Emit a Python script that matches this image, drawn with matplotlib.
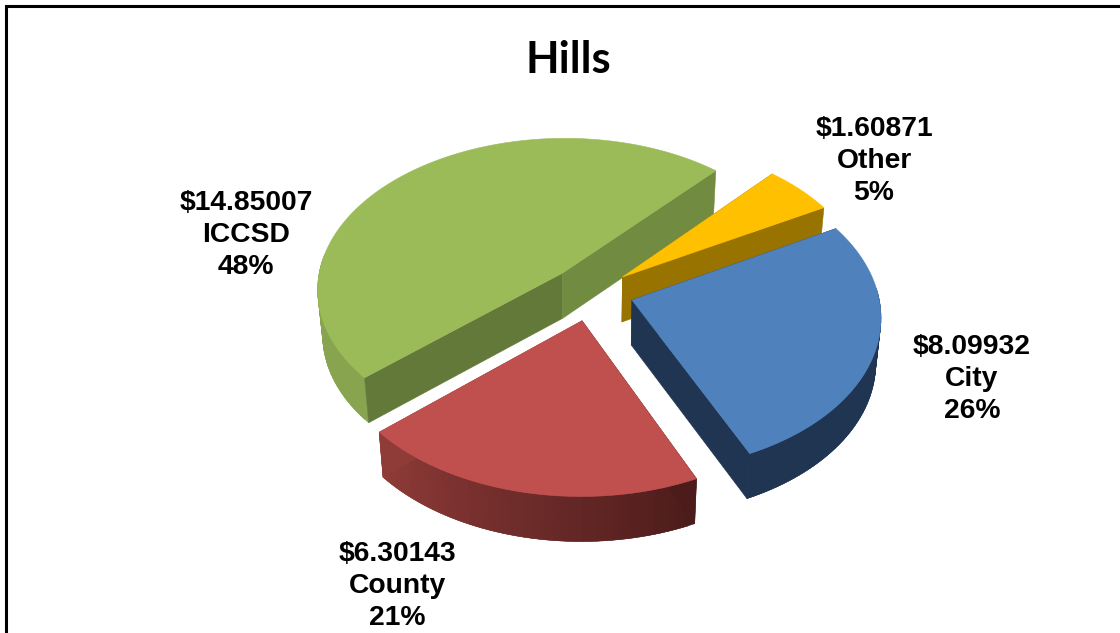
# exploded 3d style pie for the Hills levy split

import numpy as np
import matplotlib
matplotlib.use("AGG")
import matplotlib.pyplot as plt
from matplotlib.patches import Polygon

names = ["City", "County", "ICCSD", "Other"]
values = [8.09932, 6.30143, 14.85007, 1.60871]
dollar_labels = ["$8.09932", "$6.30143", "$14.85007", "$1.60871"]
pct_labels = ["26%", "21%", "48%", "5%"]

top_colors = {"City": "#4f81bd", "County": "#c0504d", "ICCSD": "#9bbb59", "Other": "#ffc000"}
rim_colors = {"City": ("#1f3552", "#1f3552"), "County": ("#4c1c1b", "#8f3b38"),
              "ICCSD": ("#88a44e", "#88a44e"), "Other": ("#987300", "#987300")}
# face under the first and the last straight edge of each slice
start_face = {"City": "#1f3552", "County": "#4c1c1b", "ICCSD": "#63793a", "Other": "#987300"}
end_face = {"City": "#1f3552", "County": "#8f3b38", "ICCSD": "#718c40", "Other": "#987300"}
label_pos = {"City": (972, 379), "County": (397, 586), "ICCSD": (246, 235), "Other": (874, 161)}
explode = {"City": 0.17, "County": 0.19, "ICCSD": 0.175, "Other": 0.16}
draw_order = ["ICCSD", "Other", "City", "County"]

cx, cy = 592, 292       # pie centre in pixels
rx, ry = 246, 152       # radii before the perspective
persp = 0.10
depth = 45
first_angle = 29.2


def project(px, py, z=0.0):
    s = 1.0 / (1.0 + persp * py)
    x = cx + rx * px * s
    y = cy - ry * py * s
    # verticals lean a little toward the middle
    x = cx + (x - cx) * (1 - 0.018 * z)
    return x, y + depth * z


def draw_slice(ax, name, a0, a1):
    mid = np.radians((a0 + a1) / 2.0)
    off_x, off_y = explode[name] * np.cos(mid), explode[name] * np.sin(mid)
    n = max(int(abs(a1 - a0) / 1.5), 3)
    ang = np.radians(np.linspace(a0, a1, n))
    xs, ys = off_x + np.cos(ang), off_y + np.sin(ang)

    # outer rim in strips so it can shade along the arc, back part stays hidden
    c0 = np.array(matplotlib.colors.to_rgb(rim_colors[name][0]))
    c1 = np.array(matplotlib.colors.to_rgb(rim_colors[name][1]))
    for i in range(n - 1):
        if np.sin(ang[i]) > 0.1:
            continue
        col = c0 + (c1 - c0) * i / float(n - 2)
        j = min(i + 2, n - 1)
        arc_top = [project(xs[k], ys[k]) for k in range(i, j + 1)]
        arc_low = [project(xs[k], ys[k], 1) for k in range(j, i - 1, -1)]
        ax.add_patch(Polygon(arc_top + arc_low, closed=True, fc=col, ec=col, lw=0.3))

    # straight faces
    for (i, col) in [(0, start_face[name]), (-1, end_face[name])]:
        face = [project(off_x, off_y), project(xs[i], ys[i]), project(xs[i], ys[i], 1), project(off_x, off_y, 1)]
        ax.add_patch(Polygon(face, closed=True, fc=col, ec=col, lw=0.4))

    top = [project(off_x, off_y)] + [project(x, y) for (x, y) in zip(xs, ys)]
    ax.add_patch(Polygon(top, closed=True, fc=top_colors[name], ec=top_colors[name], lw=0.4))


fig = plt.figure(figsize=(11.2, 6.33), dpi=100)
ax = fig.add_axes([0, 0, 1, 1])
ax.set_xlim(0, 1120)
ax.set_ylim(633, 0)
ax.axis("off")

total = sum(values)
angles = {}
a = first_angle
for (nm, val) in zip(names, values):
    sweep = 360.0 * val / total
    angles[nm] = (a, a - sweep)
    a -= sweep

for nm in draw_order:
    draw_slice(ax, nm, angles[nm][0], angles[nm][1])

for (nm, dl, pl) in zip(names, dollar_labels, pct_labels):
    ax.text(label_pos[nm][0], label_pos[nm][1], dl + "\n" + nm + "\n" + pl, ha="center", va="center",
            family="Liberation Sans", fontweight="bold", fontsize=20.3, linespacing=1.32, color="black")

ax.text(568, 60, "Hills", ha="center", va="center", family="Lato", fontweight="bold", fontsize=31.4, color="black")

# chart frame, only left and top edges show in the picture
ax.plot([5.5, 5.5, 1120], [633, 6, 6], color="black", lw=2.2, solid_joinstyle="miter")

plt.savefig("out.png", format="png", dpi=100)
